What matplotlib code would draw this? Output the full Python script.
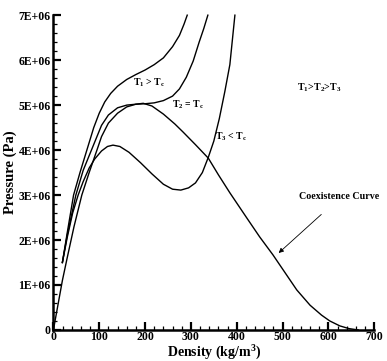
#!/usr/bin/env python3
import matplotlib
matplotlib.use("Agg")
import matplotlib.pyplot as plt
from matplotlib.ticker import MultipleLocator

plt.rcParams['font.family'] = ['Liberation Serif', 'DejaVu Serif']
plt.rcParams['font.weight'] = 'bold'
plt.rcParams['mathtext.fontset'] = 'custom'
plt.rcParams['mathtext.rm'] = 'Liberation Serif:bold'
plt.rcParams['mathtext.bf'] = 'Liberation Serif:bold'

# isotherms, density (kg/m3) vs pressure (Pa)
t1_rho = [19.6, 30, 44, 58, 73, 88, 100, 112, 125, 140, 160, 180, 200, 220, 240, 260, 275, 285, 292]
t1_p = [1.5e6, 2.15e6, 3.0e6, 3.5e6, 4.0e6, 4.5e6, 4.82e6, 5.07e6, 5.26e6, 5.42e6, 5.57e6,
        5.68e6, 5.78e6, 5.9e6, 6.05e6, 6.3e6, 6.55e6, 6.8e6, 7.0e6]

t2_rho = [19.6, 30, 49, 65, 85, 105, 120, 140, 160, 180, 200, 220, 240, 260, 275, 290, 305, 318, 328, 337]
t2_p = [1.5e6, 2.1e6, 3.0e6, 3.55e6, 4.05e6, 4.55e6, 4.78e6, 4.94e6, 5.0e6, 5.02e6,
        5.03e6, 5.05e6, 5.1e6, 5.2e6, 5.36e6, 5.62e6, 5.98e6, 6.4e6, 6.7e6, 7.0e6]

t3_rho = [19.6, 30, 42, 54, 65, 78, 90, 105, 118, 130, 145, 165, 190, 215, 240, 260, 278,
          295, 310, 325, 338, 350, 362, 374, 385, 396]
t3_p = [1.5e6, 2.05e6, 2.6e6, 3.0e6, 3.3e6, 3.6e6, 3.8e6, 3.98e6, 4.08e6, 4.11e6, 4.08e6,
        3.95e6, 3.72e6, 3.47e6, 3.24e6, 3.13e6, 3.11e6, 3.16e6, 3.27e6, 3.5e6, 3.84e6,
        4.2e6, 4.7e6, 5.3e6, 5.9e6, 7.0e6]

coex_rho = [0, 8, 19.6, 30, 45, 62, 78, 95, 105, 120, 140, 160, 180, 196, 215, 240, 265,
            283, 310, 338, 360, 385, 422, 450, 479, 505, 531, 560, 585, 603, 625, 645, 665]
coex_p = [0, 0.45e6, 1.1e6, 1.6e6, 2.3e6, 3.0e6, 3.5e6, 4.0e6, 4.3e6, 4.6e6, 4.82e6, 4.96e6,
          5.02e6, 5.04e6, 4.98e6, 4.8e6, 4.58e6, 4.4e6, 4.12e6, 3.82e6, 3.45e6, 3.05e6,
          2.49e6, 2.07e6, 1.67e6, 1.28e6, 0.89e6, 0.55e6, 0.33e6, 0.2e6, 0.09e6, 0.03e6, 0.0]

y_ticks = [0, 1e6, 2e6, 3e6, 4e6, 5e6, 6e6, 7e6]
y_labels = ["0", "1E+06", "2E+06", "3E+06", "4E+06", "5E+06", "6E+06", "7E+06"]
x_ticks = [0, 100, 200, 300, 400, 500, 600, 700]

fig = plt.figure(figsize=(3.87, 3.61), dpi=100)
ax = fig.add_axes([0.138, 0.086, 0.829, 0.872])

for rho, p in [(t1_rho, t1_p), (t2_rho, t2_p), (t3_rho, t3_p), (coex_rho, coex_p)]:
    ax.plot(rho, p, color='black', lw=1.0, clip_on=False)

ax.set_xlim(0, 700)
ax.set_ylim(0, 7e6)

ax.spines['top'].set_visible(False)
ax.spines['right'].set_visible(False)
ax.spines['left'].set_linewidth(1.8)
ax.spines['bottom'].set_linewidth(1.8)

ax.set_xticks(x_ticks)
ax.set_yticks(y_ticks)
ax.set_yticklabels(y_labels)
ax.xaxis.set_minor_locator(MultipleLocator(20))
ax.yaxis.set_minor_locator(MultipleLocator(2e5))
ax.tick_params(which='major', direction='in', length=6, width=1.6, labelsize=8.5, pad=2)
ax.tick_params(axis='x', which='major', pad=1)
ax.tick_params(which='minor', direction='in', length=3, width=0.9)
for lab in ax.get_xticklabels() + ax.get_yticklabels():
    lab.set_fontweight('bold')

ax.set_xlabel("Density (kg/m$^{\\mathrm{3}}$)", fontsize=10, fontweight='bold', labelpad=-1)
ax.set_ylabel("Pressure (Pa)", fontsize=10.5, fontweight='bold', labelpad=1)

# labels on the curves
ax.text(208, 5.51e6, "T$_{\\mathrm{1}}$ > T$_{\\mathrm{c}}$", fontsize=7, ha='center', va='center')
ax.text(294, 5.02e6, "T$_{\\mathrm{2}}$ = T$_{\\mathrm{c}}$", fontsize=7, ha='center', va='center')
ax.text(388, 4.29e6, "T$_{\\mathrm{3}}$ < T$_{\\mathrm{c}}$", fontsize=7, ha='center', va='center')
ax.text(580, 5.38e6, "T$_{\\mathrm{1}}$>T$_{\\mathrm{2}}$>T$_{\\mathrm{3}}$", fontsize=7.2, ha='center', va='center')
ax.text(624, 2.96e6, "Coexistence Curve", fontsize=7.2, ha='center', va='center')
ax.annotate("", xy=(487, 1.67e6), xytext=(589, 2.61e6),
            arrowprops=dict(arrowstyle='-|>', color='black', lw=0.6, mutation_scale=7))

fig.savefig("out.png", dpi=100)
